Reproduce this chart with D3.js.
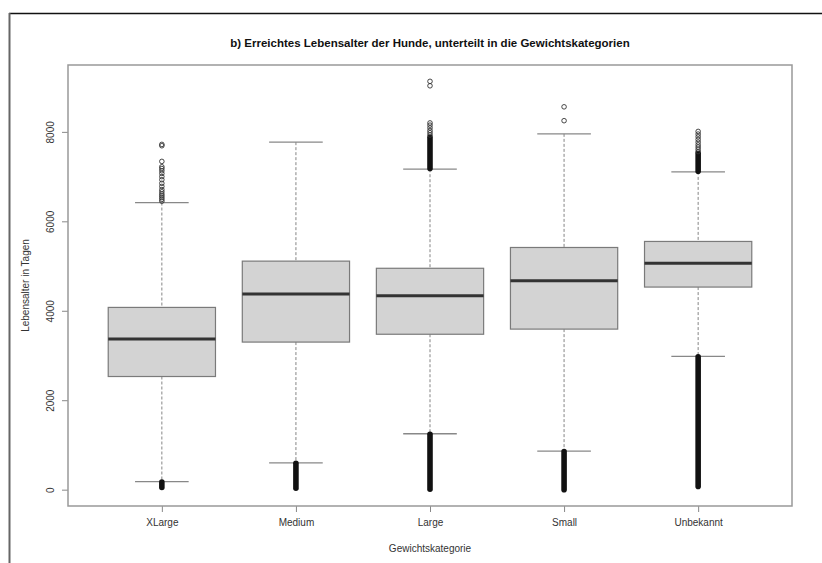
<!DOCTYPE html>
<html lang="de">
<head>
    <meta charset="UTF-8">
    <title>Lebensalter nach Gewichtskategorie</title>
    <script src="https://d3js.org/d3.v7.min.js"></script>
    <style>
        body {
            margin: 0;
            padding: 0;
            background: #fff;
            font-family: "Liberation Sans", Arial, sans-serif;
        }

        .axis text {
            font-size: 10px;
            fill: #333;
            font-family: "Liberation Sans", Arial, sans-serif;
        }

        .axis line {
            stroke: #888;
            stroke-width: 1;
        }

        .title {
            font-size: 11.5px;
            font-weight: bold;
            fill: #111;
        }

        .label {
            font-size: 10px;
            fill: #333;
        }
    </style>
</head>
<body>
<div id="chart"></div>
<script>

    // five-number summaries (days)
    const categories = ["XLarge", "Medium", "Large", "Small", "Unbekannt"];
    const lowerWhisker = [180, 600, 1250, 860, 2980];
    const q1 = [2530, 3300, 3475, 3590, 4530];
    const median = [3370, 4375, 4335, 4670, 5060];
    const q3 = [4075, 5110, 4950, 5415, 5550];
    const upperWhisker = [6420, 7770, 7165, 7955, 7105];

    // stretches where outlier circles overlap into a solid column [from, to]
    const outlierRuns = [
        [[50, 170]],
        [[30, 590]],
        [[10, 1240], [7180, 7880]],
        [[0, 850]],
        [[70, 2970], [7120, 7520]]
    ];

    // single outliers that can still be told apart
    const outliers = [
        [6450, 6490, 6530, 6570, 6610, 6660, 6710, 6780, 6850, 6930, 7000, 7070, 7130, 7180, 7220, 7340, 7690, 7720],
        [],
        [7930, 7980, 8030, 8090, 8150, 8200, 9030, 9130],
        [8250, 8560],
        [7560, 7610, 7660, 7710, 7770, 7830, 7890, 7950, 8010]
    ];

    const yTicks = [0, 2000, 4000, 6000, 8000];

    const W = 822, H = 563;
    const plot = {left: 68, right: 792, top: 65, bottom: 506};

    const svg = d3.select("#chart")
        .append("svg")
        .attr("width", W)
        .attr("height", H);

    // page border (top and left edges of the scanned figure)
    svg.append("line")
        .attr("x1", 9).attr("x2", W).attr("y1", 13.5).attr("y2", 13.5)
        .attr("stroke", "#111").attr("stroke-width", 1.5);
    svg.append("line")
        .attr("x1", 9.5).attr("x2", 9.5).attr("y1", 13).attr("y2", H)
        .attr("stroke", "#666").attr("stroke-width", 2);

    // R style ranges: categories at 1..n, 4% padding on y
    const n = categories.length;
    const x = d3.scaleLinear()
        .domain([0.5 - 0.04 * n, n + 0.5 + 0.04 * n])
        .range([plot.left, plot.right]);

    const allVals = d3.merge([lowerWhisker, upperWhisker, d3.merge(outliers), d3.merge(outlierRuns.map(r => d3.merge(r)))]);
    const lo = d3.min(allVals), hi = d3.max(allVals);
    const pad = (hi - lo) * 0.04;
    const y = d3.scaleLinear()
        .domain([lo - pad, hi + pad])
        .range([plot.bottom, plot.top]);

    const unit = x(2) - x(1);
    const boxW = unit * 0.8;
    const capW = unit * 0.4;

    const groups = svg.selectAll(".cat")
        .data(categories.map((c, i) => ({name: c, i: i, pos: i + 1})))
        .enter()
        .append("g")
        .attr("class", "cat");

    // dashed whiskers
    groups.append("line")
        .attr("x1", d => x(d.pos)).attr("x2", d => x(d.pos))
        .attr("y1", d => y(upperWhisker[d.i])).attr("y2", d => y(q3[d.i]))
        .attr("stroke", "#777").attr("stroke-width", 0.9)
        .attr("stroke-dasharray", "3,2");
    groups.append("line")
        .attr("x1", d => x(d.pos)).attr("x2", d => x(d.pos))
        .attr("y1", d => y(q1[d.i])).attr("y2", d => y(lowerWhisker[d.i]))
        .attr("stroke", "#777").attr("stroke-width", 0.9)
        .attr("stroke-dasharray", "3,2");

    // whisker caps
    groups.each(function(d) {
        const g = d3.select(this);
        [lowerWhisker[d.i], upperWhisker[d.i]].forEach(v => {
            g.append("line")
                .attr("x1", x(d.pos) - capW / 2).attr("x2", x(d.pos) + capW / 2)
                .attr("y1", y(v)).attr("y2", y(v))
                .attr("stroke", "#888").attr("stroke-width", 1.3);
        });
    });

    // boxes
    groups.append("rect")
        .attr("x", d => x(d.pos) - boxW / 2)
        .attr("width", boxW)
        .attr("y", d => y(q3[d.i]))
        .attr("height", d => y(q1[d.i]) - y(q3[d.i]))
        .attr("fill", "#d3d3d3")
        .attr("stroke", "#7a7a7a")
        .attr("stroke-width", 1.2);

    groups.append("line")
        .attr("x1", d => x(d.pos) - boxW / 2).attr("x2", d => x(d.pos) + boxW / 2)
        .attr("y1", d => y(median[d.i])).attr("y2", d => y(median[d.i]))
        .attr("stroke", "#333").attr("stroke-width", 3);

    // outliers
    const r = 2.3;
    groups.each(function(d) {
        const g = d3.select(this);
        outlierRuns[d.i].forEach(run => {
            g.append("line")
                .attr("x1", x(d.pos)).attr("x2", x(d.pos))
                .attr("y1", y(run[0])).attr("y2", y(run[1]))
                .attr("stroke", "#111")
                .attr("stroke-width", 2 * r + 1)
                .attr("stroke-linecap", "round");
        });
        g.selectAll("circle")
            .data(outliers[d.i])
            .enter()
            .append("circle")
            .attr("cx", x(d.pos))
            .attr("cy", v => y(v))
            .attr("r", r)
            .attr("fill", "none")
            .attr("stroke", "#333")
            .attr("stroke-width", 0.9);
    });

    // axes
    const yAxis = svg.append("g")
        .attr("class", "axis")
        .attr("transform", `translate(${plot.left},0)`)
        .call(d3.axisLeft(y).tickValues(yTicks).tickSize(6).tickFormat(d3.format("d")));
    yAxis.select(".domain").remove();
    yAxis.selectAll("text")
        .attr("x", 0)
        .attr("y", -14)
        .attr("dy", null)
        .attr("text-anchor", "middle")
        .attr("transform", "rotate(-90)");

    const xAxis = svg.append("g")
        .attr("class", "axis")
        .attr("transform", `translate(0,${plot.bottom})`)
        .call(d3.axisBottom(x).tickValues(d3.range(1, n + 1)).tickSize(6).tickPadding(7)
            .tickFormat(i => categories[i - 1]));
    xAxis.select(".domain").remove();

    // plot frame
    svg.append("rect")
        .attr("x", plot.left).attr("y", plot.top)
        .attr("width", plot.right - plot.left)
        .attr("height", plot.bottom - plot.top)
        .attr("fill", "none")
        .attr("stroke", "#999")
        .attr("stroke-width", 1.5);

    // texts
    const cx = (plot.left + plot.right) / 2;
    svg.append("text")
        .attr("class", "title")
        .attr("x", cx).attr("y", 47)
        .attr("text-anchor", "middle")
        .text("b) Erreichtes Lebensalter der Hunde, unterteilt in die Gewichtskategorien");

    svg.append("text")
        .attr("class", "label")
        .attr("x", cx).attr("y", 552)
        .attr("text-anchor", "middle")
        .text("Gewichtskategorie");

    svg.append("text")
        .attr("class", "label")
        .attr("transform", `translate(29,${(plot.top + plot.bottom) / 2}) rotate(-90)`)
        .attr("text-anchor", "middle")
        .text("Lebensalter in Tagen");

</script>
</body>
</html>
